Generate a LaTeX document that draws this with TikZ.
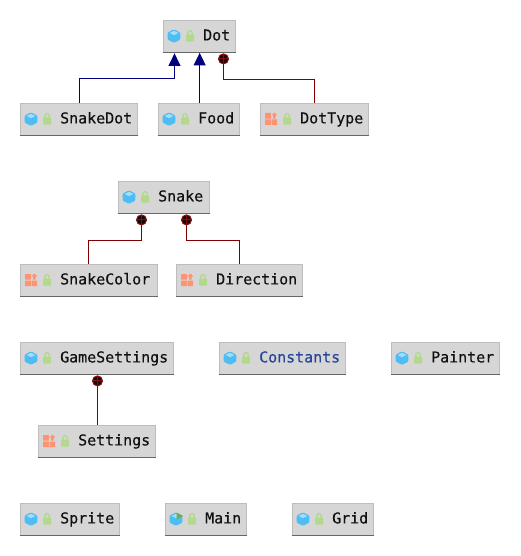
\documentclass[tikz,border=0pt]{standalone}
\usepackage{fontspec}
\newfontfamily\classfont[FakeBold=0.35]{DejaVu Sans Mono}
\usetikzlibrary{arrows.meta,calc}
\definecolor{boxfill}{HTML}{D6D6D6}
\definecolor{boxedge}{HTML}{BDBDBD}
\definecolor{boxfoot}{HTML}{666666}
\definecolor{cubeblue}{HTML}{4DBDF5}
\definecolor{cubetop}{HTML}{A6DCF5}
\definecolor{lockgreen}{HTML}{B3D98C}
\definecolor{enumorange}{HTML}{FF9270}
\definecolor{runarrow}{HTML}{6FAF4A}
\definecolor{inheritblue}{HTML}{000080}
\definecolor{innerred}{HTML}{800000}
\definecolor{knobfill}{HTML}{1E0404}
\definecolor{knobedge}{HTML}{8A1010}
\definecolor{labelink}{HTML}{111111}
\definecolor{labelblue}{HTML}{26459A}
\tikzset{
  classbox/.style={draw=boxedge,fill=boxfill,line width=.9pt,inner sep=0pt,minimum height=32pt,anchor=north west},
  classtext/.style={font=\classfont\fontsize{14.95}{16}\selectfont,inner sep=0pt,anchor=base west,text=labelink},
  inherit/.style={draw=inheritblue,line width=1pt,-{Triangle[length=12.5pt,width=12pt]}},
  inner link/.style={draw=innerred,line width=1pt},
  knob/.style={circle,draw=knobedge,fill=knobfill,line width=1pt,minimum size=10pt,inner sep=0pt,
    path picture={\draw[knobedge,line width=1pt]
      (path picture bounding box.west)--(path picture bounding box.east)
      (path picture bounding box.north)--(path picture bounding box.south);}}
}
% #1 name, #2 left, #3 top, #4 width, #5 text, #6 icon macro, #7 text colour
\newcommand\classnode[7]{%
  \node[classbox,minimum width=#4pt] (#1) at (#2,#3) {};
  \draw[boxfoot,line width=1.1pt] (#1.south west)--(#1.south east);
  \begin{scope}[shift={(#1.north west)}]
    #6
    \fill[lockgreen,rounded corners=1pt] (23,14.5) rectangle (31,21.7);
    \draw[lockgreen,line width=1.4pt] (24.8,15)--(24.8,12.8) arc[start angle=180,end angle=0,radius=2.2pt] --(29.2,15);
  \end{scope}
  \node[classtext,text=#7] (#1-label) at ($(#1.north west)+(40,20.4)$) {#5};
}
\newcommand\cubeicon{%
  \fill[cubeblue,rounded corners=1pt] (11,9.3)--(17.3,12.6)--(17.3,19.6)--(11,22.9)--(4.7,19.6)--(4.7,12.6)--cycle;
  \fill[cubetop] (11,10.8)--(15.5,13)--(11,15.2)--(6.5,13)--cycle;
}
\newcommand\enumicon{%
  \fill[enumorange] (5,16.5) rectangle (10.8,22) (11.6,16.5) rectangle (17,22) (5,10) rectangle (10.8,15.7);
  \fill[enumorange] (14.3,9.5)--(17.3,12.5)--(15.6,12.5)--(15.6,15.7)--(13,15.7)--(13,12.5)--(11.3,12.5)--cycle;
}
\newcommand\mainicon{%
  \cubeicon
  \fill[runarrow] (11.5,9.5)--(18,13)--(11.5,16.5)--cycle;
}
\begin{document}
\begin{tikzpicture}[x=1pt,y=-1pt]
\useasboundingbox (0,0) rectangle (520,556);
\classnode{dot}{163}{20}{72}{Dot}{\cubeicon}{labelink}
\classnode{snakedot}{20}{103}{117}{SnakeDot}{\cubeicon}{labelink}
\classnode{food}{158}{103}{81}{Food}{\cubeicon}{labelink}
\classnode{dottype}{260}{103}{108}{DotType}{\enumicon}{labelink}
\classnode{snake}{118}{181}{91}{Snake}{\cubeicon}{labelink}
\classnode{snakecolor}{20}{264}{137}{SnakeColor}{\enumicon}{labelink}
\classnode{direction}{176}{264}{126}{Direction}{\enumicon}{labelink}
\classnode{gamesettings}{20}{342}{153}{GameSettings}{\cubeicon}{labelink}
\classnode{constants}{219}{342}{126}{Constants}{\cubeicon}{labelblue}
\classnode{painter}{391}{342}{108}{Painter}{\cubeicon}{labelink}
\classnode{settings}{38}{425}{117}{Settings}{\enumicon}{labelink}
\classnode{sprite}{20}{503}{99}{Sprite}{\cubeicon}{labelink}
\classnode{main}{165}{503}{81}{Main}{\mainicon}{labelink}
\classnode{grid}{292}{503}{81}{Grid}{\cubeicon}{labelink}
% inheritance
\draw[inherit] ($(snakedot.north)+(0.7,0)$) |- ($(dot.south west)+(11.5,26)$) -- ($(dot.south west)+(11.5,0.5)$);
\draw[inherit] ($(food.north)+(0.7,0)$) -- ($(food.north |- dot.south)+(0.7,0)$);
% inner-class links
\node[knob] (k1) at ($(dot.south west)+(60.5,6)$) {};
\node[knob] (k2) at ($(snake.south west)+(23.5,6)$) {};
\node[knob] (k3) at ($(snake.south west)+(68.5,6)$) {};
\node[knob] (k4) at ($(gamesettings.south west)+(77.5,6)$) {};
\draw[inner link] (k1.south) -- ++(0,15) -| (dottype.north);
\draw[inner link] (k2.south) -- ++(0,15.5) -| (snakecolor.north);
\draw[inner link] (k3.south) -- ++(0,15.5) -| (direction.north);
\draw[inner link] (k4.south) -- (k4.south |- settings.north);
\end{tikzpicture}
\end{document}
